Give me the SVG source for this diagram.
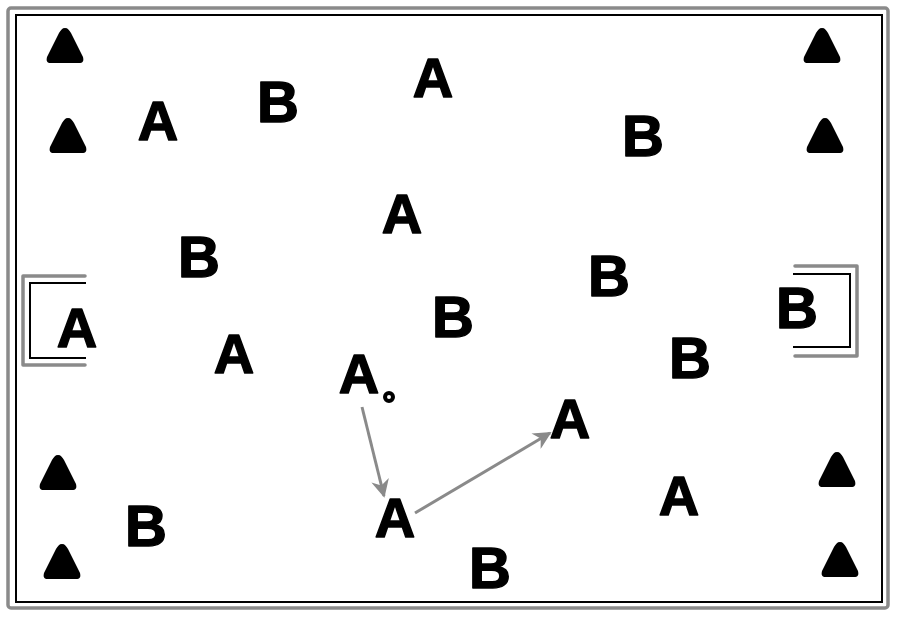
<svg xmlns="http://www.w3.org/2000/svg" width="900" height="620" viewBox="0 0 900 620">
<style>
.lbl{font-family:"Liberation Sans","Arial",sans-serif;font-weight:bold;text-anchor:middle;fill:#000;stroke:#000;stroke-width:1.5;stroke-linejoin:round}
.a{font-size:56px}
.b{font-size:58px}
.gray{fill:none;stroke:#8a8a8a;stroke-width:3.5;stroke-linecap:round;stroke-linejoin:round}
.blk{fill:none;stroke:#000;stroke-width:2}
.arr{fill:none;stroke:#8a8a8a;stroke-width:3;marker-end:url(#ah)}
</style>
<defs>
<marker id="ah" viewBox="0 0 10 10" refX="9" refY="5" markerWidth="6" markerHeight="6" orient="auto" markerUnits="strokeWidth">
<path d="M0,0 L10,5 L0,10 L3,5 Z" fill="#8a8a8a"/>
</marker>
<path id="tri" d="M0,-18 C3,-18 4,-16 6,-13 L18,11 C19,15 18,17 14,17 L-14,17 C-18,17 -19,15 -18,11 L-6,-13 C-4,-16 -3,-18 0,-18 Z"/>
</defs>
<rect width="900" height="620" fill="#fff"/>
<g id="field">
<rect x="8" y="8" width="880" height="600" rx="3" class="gray"/>
<rect x="16" y="15" width="866" height="587" class="blk"/>
</g>
<g id="goal-left">
<path d="M85,276 L23,276 L23,365 L85,365" class="gray"/>
<path d="M86,283 L30,283 L30,358 L86,358" class="blk" stroke-width="1.5"/>
</g>
<g id="goal-right">
<path d="M795,266 L857,266 L857,356 L795,356" class="gray"/>
<path d="M793,274 L850,274 L850,347 L793,347" class="blk" stroke-width="1.5"/>
</g>
<g id="cones">
<use href="#tri" x="65" y="46"/>
<use href="#tri" x="68" y="136"/>
<use href="#tri" x="822" y="46"/>
<use href="#tri" x="825" y="136"/>
<use href="#tri" x="58" y="473"/>
<use href="#tri" x="62" y="562"/>
<use href="#tri" x="837" y="470"/>
<use href="#tri" x="840" y="560"/>
</g>
<g id="players-a">
<text class="lbl a" x="433" y="97">A</text>
<text class="lbl a" x="158" y="140">A</text>
<text class="lbl a" x="402" y="233">A</text>
<text class="lbl a" x="77" y="347">A</text>
<text class="lbl a" x="234" y="373">A</text>
<text class="lbl a" x="359" y="393">A</text>
<text class="lbl a" x="395" y="537">A</text>
<text class="lbl a" x="570" y="438">A</text>
<text class="lbl a" x="679" y="515">A</text>
</g>
<g id="players-b">
<text class="lbl b" x="278" y="122">B</text>
<text class="lbl b" x="643" y="156">B</text>
<text class="lbl b" x="199" y="277">B</text>
<text class="lbl b" x="609" y="296">B</text>
<text class="lbl b" x="453" y="337">B</text>
<text class="lbl b" x="797" y="328">B</text>
<text class="lbl b" x="690" y="378">B</text>
<text class="lbl b" x="146" y="546">B</text>
<text class="lbl b" x="490" y="588">B</text>
</g>
<g id="ball">
<circle cx="389" cy="397" r="4" fill="#fff" stroke="#000" stroke-width="4"/>
</g>
<g id="connectors">
<line x1="362" y1="407" x2="384" y2="496" class="arr"/>
<line x1="415" y1="513" x2="550" y2="433" class="arr"/>
</g>
</svg>
